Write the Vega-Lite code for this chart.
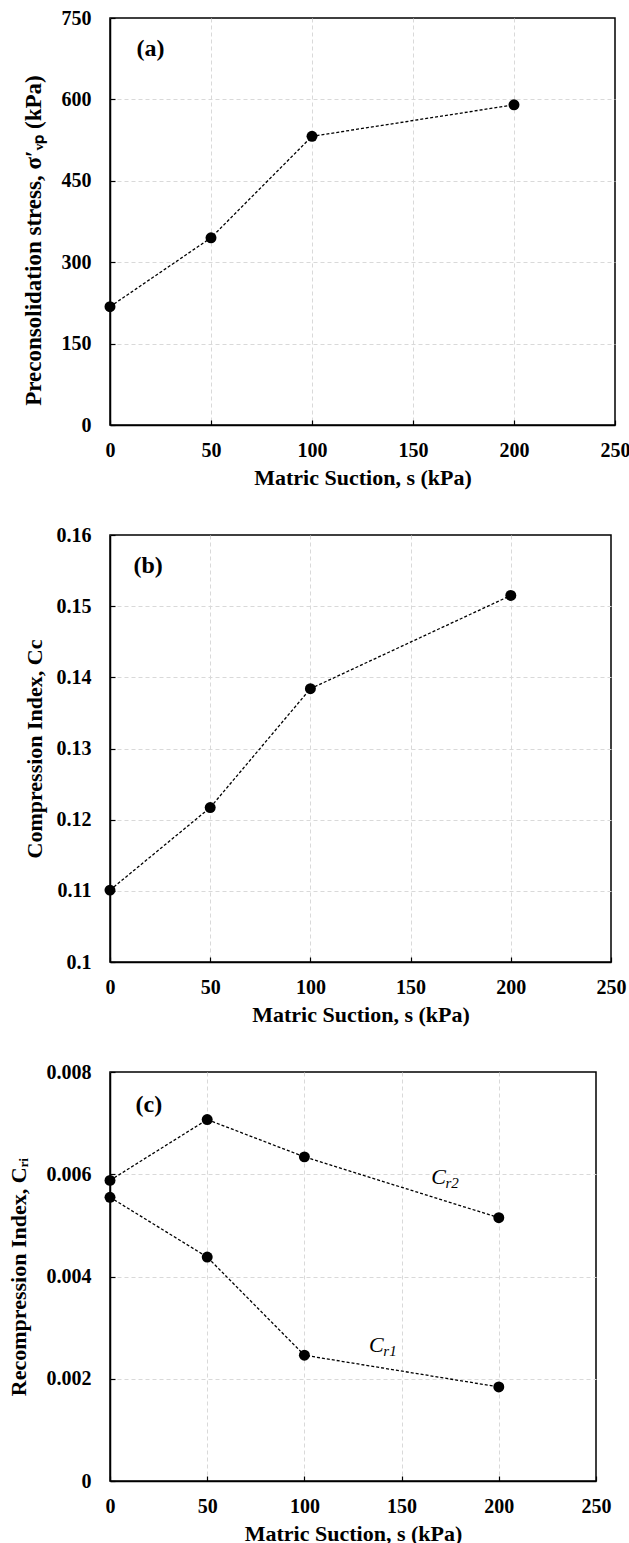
{
  "$schema": "https://vega.github.io/schema/vega-lite/v6.json",
  "background": "white",
  "padding": {"left": 6, "top": 7, "right": 5, "bottom": 5},
  "config": {
    "font": "Liberation Serif",
    "view": {"stroke": "black", "strokeWidth": 1.5},
    "axis": {
      "labelFont": "Liberation Serif", "labelFontWeight": "bold", "labelFontSize": 20, "labelColor": "black",
      "titleFont": "Liberation Serif", "titleFontWeight": "bold", "titleFontSize": 22, "titleColor": "black",
      "domainColor": "black", "domainWidth": 1.5,
      "tickColor": "black", "tickSize": -5, "tickWidth": 1.2,
      "gridColor": "#d9d9d9", "gridDash": [4, 3], "gridWidth": 1,
      "labelFlush": false, "labelOverlap": false
    },
    "axisX": {"labelPadding": 20, "titlePadding": 7},
    "axisY": {"labelPadding": 24, "titlePadding": 16}
  },
  "datasets": {
    "a": [
      {"s": 0, "v": 218}, {"s": 50, "v": 345}, {"s": 100, "v": 532}, {"s": 200, "v": 590}
    ],
    "b": [
      {"s": 0, "v": 0.1101}, {"s": 50, "v": 0.1217}, {"s": 100, "v": 0.1384}, {"s": 200, "v": 0.1515}
    ],
    "c": [
      {"series": "Cr2", "s": 0, "v": 0.00588}, {"series": "Cr2", "s": 50, "v": 0.00707},
      {"series": "Cr2", "s": 100, "v": 0.00634}, {"series": "Cr2", "s": 200, "v": 0.00515},
      {"series": "Cr1", "s": 0, "v": 0.00555}, {"series": "Cr1", "s": 50, "v": 0.00438},
      {"series": "Cr1", "s": 100, "v": 0.00246}, {"series": "Cr1", "s": 200, "v": 0.00184}
    ],
    "clab": [
      {"s": 169, "v": 0.00595, "main": "C", "sub": "r2"},
      {"s": 137, "v": 0.00266, "main": "C", "sub": "r1"}
    ]
  },
  "bounds": "flush",
  "spacing": 110,
  "resolve": {"scale": {"x": "independent", "y": "independent"}},
  "vconcat": [
    {
      "width": 505, "height": 407,
      "encoding": {
        "x": {"field": "s", "type": "quantitative", "scale": {"domain": [0, 250], "nice": false},
              "axis": {"values": [0, 50, 100, 150, 200, 250], "title": "Matric Suction, s (kPa)",
                       "gridOpacity": {"condition": {"test": "datum.value == 250", "value": 0}, "value": 1}}},
        "y": {"field": "v", "type": "quantitative", "scale": {"domain": [0, 750], "nice": false},
              "axis": {"values": [0, 150, 300, 450, 600, 750], "title": "Preconsolidation stress, σ′ᵥₚ (kPa)", "titleY": 222, "titleFontSize": 23,
                       "gridOpacity": {"condition": {"test": "datum.value == 750", "value": 0}, "value": 1}}}
      },
      "layer": [
        {"data": {"name": "a"}, "mark": {"type": "line", "color": "black", "strokeDash": [3, 2], "strokeWidth": 1.3}},
        {"data": {"name": "a"}, "mark": {"type": "circle", "color": "black", "opacity": 1, "size": 120}},
        {"data": {"values": [{"s": 20, "v": 693, "label": "(a)"}]},
         "mark": {"type": "text", "fontSize": 24, "fontWeight": "bold", "font": "Liberation Serif", "color": "black", "align": "center", "baseline": "middle"},
         "encoding": {"text": {"field": "label"}}}
      ]
    },
    {
      "width": 501, "height": 427,
      "encoding": {
        "x": {"field": "s", "type": "quantitative", "scale": {"domain": [0, 250], "nice": false},
              "axis": {"values": [0, 50, 100, 150, 200, 250], "title": "Matric Suction, s (kPa)",
                       "gridOpacity": {"condition": {"test": "datum.value == 250", "value": 0}, "value": 1}}},
        "y": {"field": "v", "type": "quantitative", "scale": {"domain": [0.1, 0.16], "nice": false, "zero": false},
              "axis": {"values": [0.1, 0.11, 0.12, 0.13, 0.14, 0.15, 0.16], "format": "~g", "title": "Compression Index, Cc", "titlePadding": 10,
                       "gridOpacity": {"condition": {"test": "datum.value > 0.159", "value": 0}, "value": 1}}}
      },
      "layer": [
        {"data": {"name": "b"}, "mark": {"type": "line", "color": "black", "strokeDash": [3, 2], "strokeWidth": 1.3}},
        {"data": {"name": "b"}, "mark": {"type": "circle", "color": "black", "opacity": 1, "size": 120}},
        {"data": {"values": [{"s": 19, "v": 0.1556, "label": "(b)"}]},
         "mark": {"type": "text", "fontSize": 24, "fontWeight": "bold", "font": "Liberation Serif", "color": "black", "align": "center", "baseline": "middle"},
         "encoding": {"text": {"field": "label"}}}
      ]
    },
    {
      "width": 486, "height": 409,
      "encoding": {
        "x": {"field": "s", "type": "quantitative", "scale": {"domain": [0, 250], "nice": false},
              "axis": {"values": [0, 50, 100, 150, 200, 250], "title": "Matric Suction, s (kPa)",
                       "gridOpacity": {"condition": {"test": "datum.value == 250", "value": 0}, "value": 1}}},
        "y": {"field": "v", "type": "quantitative", "scale": {"domain": [0, 0.008], "nice": false},
              "axis": {"values": [0, 0.002, 0.004, 0.006, 0.008], "format": "~g", "title": "Recompression Index, Cᵣᵢ",
                       "gridOpacity": {"condition": {"test": "datum.value > 0.0079", "value": 0}, "value": 1}}}
      },
      "layer": [
        {"data": {"name": "c"}, "mark": {"type": "line", "color": "black", "strokeDash": [3, 2], "strokeWidth": 1.3},
         "encoding": {"detail": {"field": "series"}}},
        {"data": {"name": "c"}, "mark": {"type": "circle", "color": "black", "opacity": 1, "size": 120}},
        {"data": {"values": [{"s": 20, "v": 0.00735, "label": "(c)"}]},
         "mark": {"type": "text", "fontSize": 24, "fontWeight": "bold", "font": "Liberation Serif", "color": "black", "align": "center", "baseline": "middle"},
         "encoding": {"text": {"field": "label"}}},
        {"data": {"name": "clab"},
         "mark": {"type": "text", "fontSize": 22, "fontStyle": "italic", "font": "Liberation Serif", "color": "black", "align": "center", "baseline": "middle"},
         "encoding": {"text": {"field": "main"}}},
        {"data": {"name": "clab"},
         "mark": {"type": "text", "fontSize": 15, "fontStyle": "italic", "font": "Liberation Serif", "color": "black", "align": "left", "baseline": "middle", "dx": 7, "dy": 6},
         "encoding": {"text": {"field": "sub"}}}
      ]
    }
  ]
}
